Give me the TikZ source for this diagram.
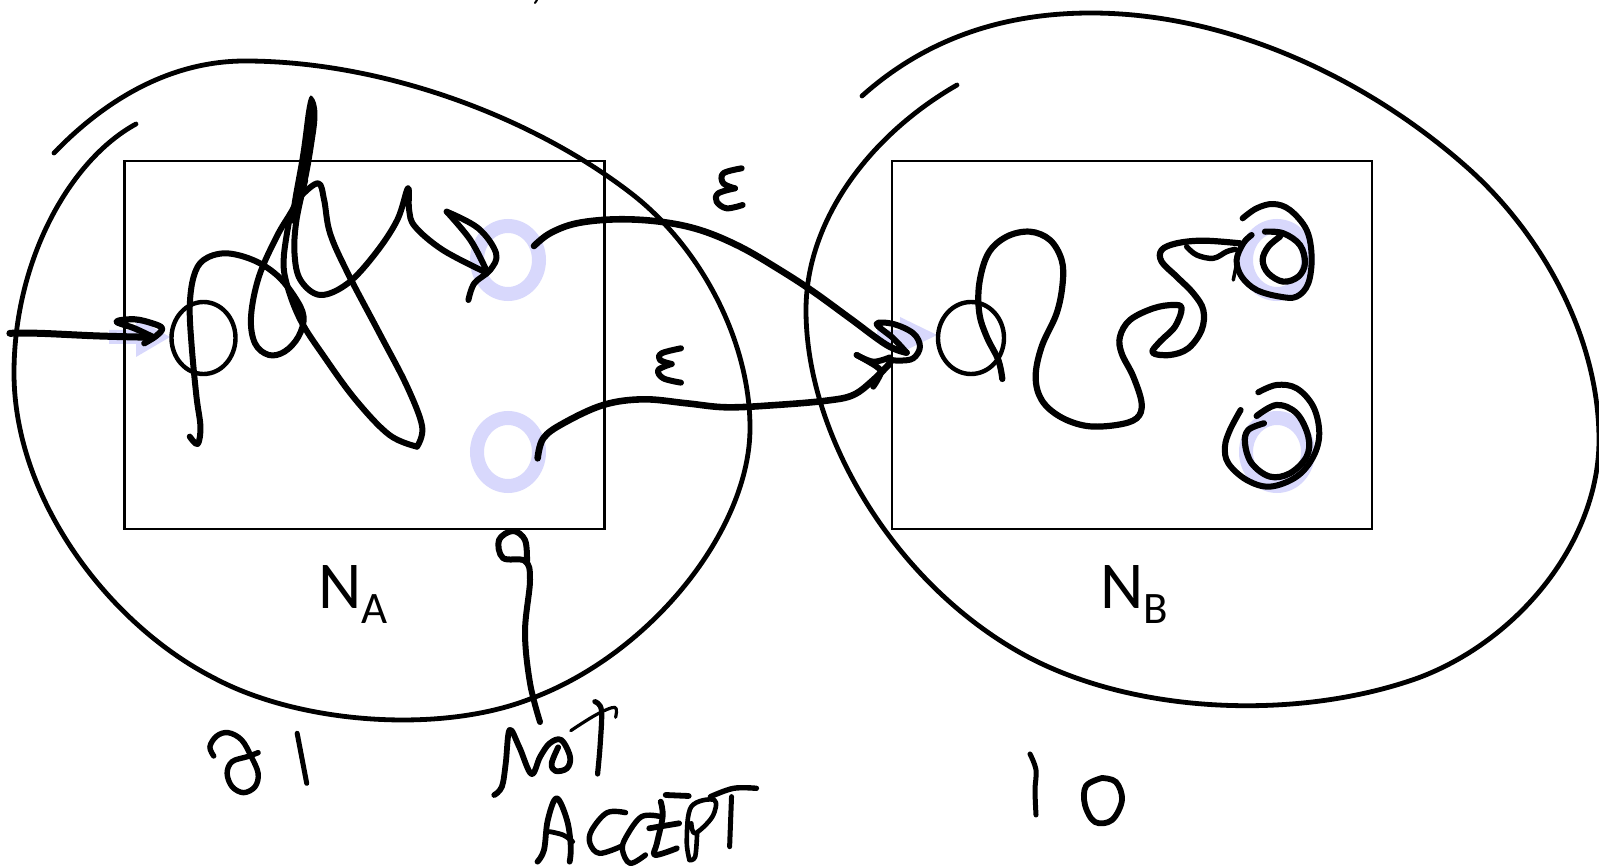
\documentclass[tikz,border=0pt]{standalone}
\usepackage{fontspec}
\setmainfont{Carlito}
\definecolor{pale}{RGB}{216,216,252}
\tikzset{
  inkline/.style={draw=black,line cap=round,line join=round},
  loopline/.style={inkline,line width=4.8pt},
  boxframe/.style={draw=black,line width=2.6pt,fill=none,inner sep=0,outer sep=0},
  palering/.style={draw=pale,line width=14pt},
  startcircle/.style={draw=black,line width=4.4pt},
  boxlabel/.style={anchor=base west,inner sep=0,font=\fontsize{67}{67}\selectfont}
}
\newcommand\ink[2][6]{\draw[inkline,line width=#1pt] plot[smooth,tension=.6] coordinates {#2};}
\newcommand\sublabel[2]{#1\raisebox{-15pt}{\fontsize{45}{45}\selectfont #2}}
\begin{document}
\begin{tikzpicture}[x=1pt,y=-1pt]
\useasboundingbox (0,0) rectangle (1599,866);
\fill[white] (0,0) rectangle (1599,866);
% pale states
\draw[palering] (508,260) ellipse (31 and 34);
\draw[palering] (508,452) ellipse (31 and 34);
\draw[palering] (1277,260) ellipse (31 and 34);
\draw[palering] (1277,452) ellipse (31 and 34);
\fill[pale] (109,330) -- (136,330) -- (136,318) -- (170,337) -- (136,357) -- (136,344) -- (109,344) -- cycle;
\fill[pale] (877,330) -- (900,330) -- (900,317) -- (937,335) -- (900,353) -- (900,343) -- (877,343) -- cycle;
% boxes
\node[boxframe,minimum width=480pt,minimum height=368pt,anchor=north west] (boxa) at (124.5,161) {};
\node[boxframe,minimum width=480pt,minimum height=368pt,anchor=north west] (boxb) at (892,161) {};
\draw[startcircle] (203.5,338) ellipse (32 and 36);
\draw[startcircle] (971,338) ellipse (33 and 36);
\node[boxlabel] (na) at (318,608) {\sublabel{N}{A}};
\node[boxlabel] (nb) at (1100,608) {\sublabel{N}{B}};
% big loops
\draw[loopline] (54,153) .. controls (105,100) and (170,61) .. (245,61)
  .. controls (380,61) and (530,115) .. (632,194)
  .. controls (700,247) and (750,340) .. (750,428)
  .. controls (750,530) and (650,655) .. (530,699)
  .. controls (440,734) and (300,724) .. (214,678)
  .. controls (110,625) and (14,500) .. (14,373)
  .. controls (14,260) and (70,160) .. (136,124);
\draw[loopline] (862,96) .. controls (930,35) and (1010,13) .. (1091,13)
  .. controls (1230,13) and (1370,80) .. (1470,170)
  .. controls (1545,238) and (1599,340) .. (1599,440)
  .. controls (1599,540) and (1520,640) .. (1418,678)
  .. controls (1300,720) and (1140,715) .. (1030,658)
  .. controls (900,590) and (806,440) .. (806,310)
  .. controls (806,220) and (870,135) .. (957,85);
% bottom connector
\ink{(540,722) (530,683) (525,632) (530,580) (525,561) (503,558) (499,540) (513,531) (525,540) (527,561)}
\draw[inkline,line width=2pt] (537,0) -- (535,3);
% left scribbles
\begin{scope}[shift={(0,80)},x=0.3953pt,y=-0.3333pt]
\ink[7]{(25,760) (100,760) (250,768) (385,772)}
\ink[6.2]{(385,770) (340,745) (295,725) (340,718) (385,730) (410,745) (395,768) (365,790)}
\ink{(480,1070) (500,1092) (507,1040) (497,950) (485,800) (480,680) (490,590) (515,540) (570,520) (640,540) (700,585) (745,650) (768,710) (755,770) (720,815) (680,825) (645,790) (635,710) (655,590) (700,470) (735,400) (760,350) (805,310) (820,360) (835,460) (880,580) (960,760) (1030,920) (1068,1040) (1055,1100)}
\ink{(1055,1100) (985,1065) (900,960) (820,830) (760,720) (725,610) (718,530) (735,400)}
\fill plot[smooth cycle,tension=.7] coordinates {(735,400) (760,220) (778,70) (792,52) (803,100) (795,190) (775,320) (750,420)};
\ink{(772,300) (750,420) (745,520) (760,600) (810,645) (880,610) (950,520) (1005,420) (1032,325) (1035,390) (1050,440) (1120,510) (1225,575)}
\ink{(1130,395) (1210,445) (1255,520) (1240,570) (1200,610) (1185,660)}
\ink{(1130,395) (1190,480) (1230,570)}
\end{scope}
% epsilon connectors
\begin{scope}[shift={(460,160)},x=0.3333pt,y=-0.3333pt]
\ink[6.6]{(222,258) (270,220) (350,190) (470,178) (600,185) (720,210) (840,260) (960,330) (1060,395) (1170,475) (1280,555) (1340,578)}
\ink{(1340,578) (1300,535) (1250,492) (1300,492) (1360,520) (1380,560) (1360,595) (1320,602) (1295,600)}
\ink[6.6]{(233,895) (250,835) (310,790) (430,735) (550,718) (680,730) (800,742) (950,735) (1100,722) (1180,705) (1240,660) (1290,610)}
\ink{(1190,585) (1240,605) (1290,592)}
\ink{(1190,585) (1250,620) (1262,640) (1240,680)}
\ink{(845,25) (790,40) (790,70) (825,85)}
\ink{(825,85) (775,100) (770,125) (800,145) (848,135)}
\ink{(663,565) (605,580) (600,600) (635,612)}
\ink{(635,612) (595,630) (610,655) (663,668)}
\end{scope}
% right scribbles
\begin{scope}[shift={(860,180)},x=0.3333pt,y=-0.3333pt]
\ink[6.2]{(427,597) (415,540) (380,470) (358,400) (358,310) (385,220) (440,170) (510,155) (570,180) (605,240) (608,310) (590,400) (545,500) (527,590) (545,660) (600,710) (680,738) (770,735) (830,715) (845,670) (820,590) (785,520) (780,470) (810,420) (880,385) (940,375) (965,385) (945,440) (900,485) (878,518) (930,525) (985,505) (1025,450) (1030,390) (1000,340) (950,290) (905,245) (905,210) (950,190) (1030,182) (1140,190)}
\ink[5.4]{(980,200) (1010,225) (1060,235) (1100,215) (1125,208)}
\ink{(1148,115) (1190,85) (1240,72) (1290,90) (1340,150) (1355,230) (1345,310) (1310,350) (1260,350) (1190,330) (1145,290) (1130,240) (1150,190) (1175,165)}
\ink[3.5]{(1120,300) (1130,250)}
\ink[6.2]{(1215,155) (1270,160) (1320,195) (1335,250) (1315,290) (1270,305) (1225,280) (1208,240) (1225,200) (1260,170)}
\ink{(1195,637) (1250,615) (1310,625) (1360,680) (1378,760) (1360,830) (1310,890) (1230,920) (1160,900) (1105,850) (1095,800) (1110,750) (1142,690)}
\ink[6.2]{(1190,708) (1250,675) (1310,700) (1345,770) (1340,830) (1290,880) (1230,890) (1175,850) (1155,790) (1165,750) (1212,730)}
\end{scope}
% handwriting
\begin{scope}[shift={(190,660)},x=0.3827pt,y=-0.3333pt]
\ink[5.4]{(62,288) (52,260) (70,228) (100,218) (135,240) (160,290) (178,340) (170,380) (140,398) (110,380) (97,340) (110,305) (150,290) (178,278)}
\ink[5]{(280,220) (290,280) (305,370)}
\ink[5.8]{(795,405) (815,380) (825,310) (835,210) (860,260) (892,342) (915,290) (940,250) (970,240) (993,290) (985,325) (955,333) (945,310) (962,262)}
\ink[5.2]{(1058,125) (1075,150) (1072,250) (1065,342)}
\ink[3.2]{(995,212) (1060,165) (1110,142) (1112,172)}
\ink[5.8]{(908,605) (925,570) (935,480) (958,415) (985,480) (995,560) (992,605)}
\ink[4.8]{(940,515) (975,525) (1000,545)}
\ink[5.4]{(1138,458) (1090,458) (1050,510) (1045,550) (1070,580) (1125,560)}
\ink[5.4]{(1230,470) (1180,470) (1140,530) (1130,570) (1150,610) (1190,585)}
\ink[5.8]{(1230,425) (1235,470) (1220,550) (1215,585) (1272,565)}
\ink[5.8]{(1200,505) (1278,490)}
\ink[5.8]{(1243,405) (1303,408)}
\ink[4.6]{(1305,600) (1298,540) (1310,440) (1370,420) (1365,470) (1320,520) (1310,490)}
\ink[4.6]{(1325,520) (1320,590) (1305,600)}
\ink[5.4]{(1360,410) (1420,385) (1480,385)}
\ink[5]{(1415,410) (1410,560)}
\end{scope}
% right digits: 1 0
\ink[5]{(1030,754) (1036,770) (1035,790) (1036,815)}
\ink[5.8]{(1102,778) (1086,786) (1085,805) (1095,822) (1112,820) (1122,800) (1116,782) (1102,778)}
\end{tikzpicture}
\end{document}
